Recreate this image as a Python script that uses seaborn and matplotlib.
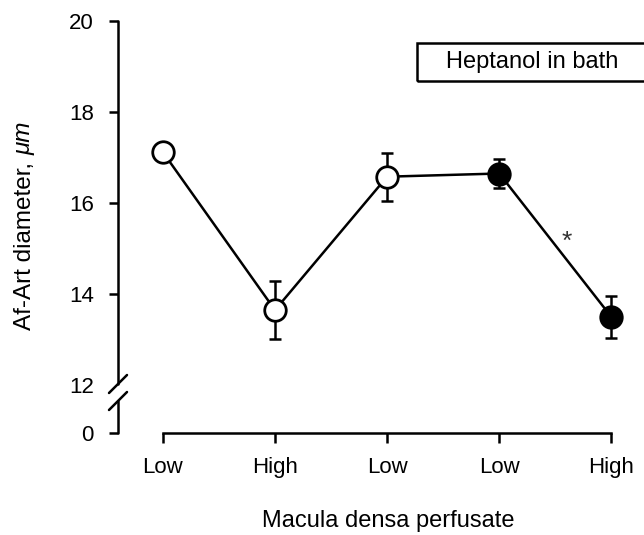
import numpy as np
import pandas as pd
import matplotlib
matplotlib.use("Agg")
import matplotlib.pyplot as plt
from matplotlib.patches import Rectangle
import seaborn as sns

# ---- data ----
categories = ["Low", "High", "Low", "Low", "High"]
diameter = [17.12, 13.65, 16.58, 16.65, 13.50]
sem = [0.15, 0.64, 0.53, 0.31, 0.46]
heptanol = [False, False, False, True, True]   # filled markers
ytick_values = [0, 12, 14, 16, 18, 20]

sns.set_theme(style="white")
plt.rcParams['font.family'] = ['Liberation Sans', 'DejaVu Sans']

W, H = 644, 535
fig = plt.figure(figsize=(W / 100, H / 100), dpi=100)
ax_l, ax_r, ax_b, ax_t = 118, 645, 433, 21
ax = fig.add_axes([ax_l / W, 1 - ax_b / H, (ax_r - ax_l) / W, (ax_b - ax_t) / H])

# broken y-axis scale: 0..12 compressed into a small gap
B = 1.05
def fwd(v):
    v = np.asarray(v, dtype=float)
    return np.where(v >= 12, v - 12 + B, v * B / 12)
def inv(u):
    u = np.asarray(u, dtype=float)
    return np.where(u >= B, u + 12 - B, u * 12 / B)
ax.set_yscale('function', functions=(fwd, inv))

pos = np.arange(len(categories))
df = pd.DataFrame({"pos": pos, "d": diameter, "sem": sem, "hep": heptanol})

LW = 1.8
sns.lineplot(data=df, x="pos", y="d", ax=ax, color="black", lw=LW, zorder=2)
ax.errorbar(df["pos"], df["d"], yerr=df["sem"], fmt="none", ecolor="black",
            elinewidth=LW, capsize=4, capthick=LW, zorder=2)
for p, d, h in zip(pos, diameter, heptanol):
    ax.plot([p], [d], marker="o", ms=15.5, mew=2.0, mec="black",
            mfc="black" if h else "white", zorder=3, ls="none")

ax.set_xlim(-0.4, 4.3)
ax.set_ylim(0, 20)
ax.set_xticks(pos)
ax.set_xticklabels(categories)
ax.set_yticks(ytick_values)
ax.set_yticklabels([str(v) for v in ytick_values])
ax.set_ylabel("")

for s in ["top", "right", "left"]:
    ax.spines[s].set_visible(False)
ax.spines["bottom"].set_bounds(0, 4)
ax.spines["bottom"].set_linewidth(LW)
ax.spines["bottom"].set_color("black")

ax.tick_params(axis="x", direction="out", length=7, width=LW, pad=10,
               labelsize=16, colors="black", bottom=True)
ax.tick_params(axis="y", direction="out", length=6.5, width=LW, pad=11,
               labelsize=16, colors="black", left=True)
ax.yaxis.get_major_ticks()[1].tick1line.set_visible(False)

# manual left spine with break
ah = ax_b - ax_t
aw = ax_r - ax_l
y1 = 49 / ah   # upper break point (axes fraction)
y0 = 32 / ah   # lower break point
ax.plot([0, 0], [y1, 1], transform=ax.transAxes, color="black", lw=LW, clip_on=False)
ax.plot([0, 0], [0, y0], transform=ax.transAxes, color="black", lw=LW, clip_on=False)
dx, dy = 9 / aw, 9 / ah
for yc in (y1, y0):
    ax.plot([-dx, dx], [yc - dy, yc + dy], transform=ax.transAxes, color="black",
            lw=LW, clip_on=False)

ax.set_xlabel("Macula densa perfusate", fontsize=17, labelpad=21, color="black")
ax.xaxis.set_label_coords((388 - ax_l) / aw, -(521 - ax_b) / ah, transform=ax.transAxes)
ax.xaxis.label.set_va("center")

# y label: upright text followed by italic unit
YFS = 17.5
base_x = 31 / W
start_y = 1 - 330 / H
t1 = fig.text(base_x, start_y, "Af-Art diameter,", rotation=90, rotation_mode="anchor",
              ha="left", va="baseline", fontsize=YFS, color="black")
fig.canvas.draw()
bb = t1.get_window_extent()
space_px = 0.278 * YFS * 100 / 72
fig.text(base_x, (bb.y1 + space_px) / H, "\u03bcm", rotation=90, rotation_mode="anchor",
         ha="left", va="baseline", fontsize=YFS, style="italic", color="black")

ax.text(3.6, 15.15, "*", ha="center", va="center", fontsize=19, color="#333333")

# legend-like box
fig.patches.append(Rectangle((417 / W, 1 - 81 / H), 240 / W, 38 / H,
                             transform=fig.transFigure, fill=False, lw=LW,
                             edgecolor="black"))
fig.text(532 / W, 1 - 62 / H, "Heptanol in bath", ha="center", va="center",
         fontsize=17, color="black")

fig.savefig("out.png", dpi=100)
